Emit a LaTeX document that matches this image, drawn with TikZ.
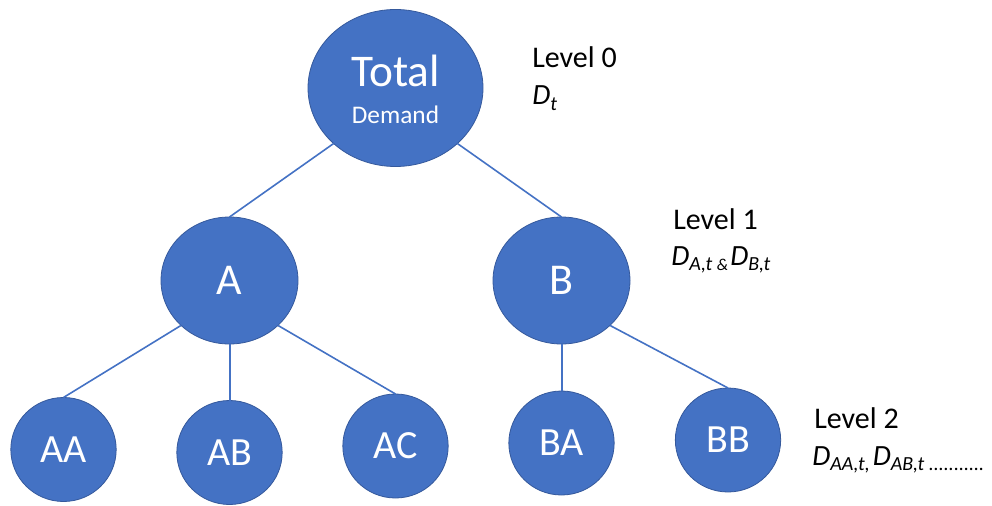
\documentclass[tikz,border=0pt]{standalone}
\usepackage{fontspec}
\setmainfont{Carlito}
\usetikzlibrary{shapes.geometric}
\definecolor{nodeblue}{HTML}{4472C4}
\definecolor{rimblue}{HTML}{35599C}
% lowered italic subscript used in the level formulas
\newcommand\lvsub[1]{\raisebox{-4pt}{\fontsize{15}{15}\selectfont\itshape #1}}
\newcommand\lvamp{\raisebox{-4pt}{\fontsize{12.5}{13}\selectfont\itshape\&}}
\newcommand\lvD{{\fontsize{22}{26}\selectfont\itshape D}}
\begin{document}
\begin{tikzpicture}[x=0.75pt,y=-0.75pt,
  bubble/.style={ellipse, fill=nodeblue, draw=rimblue, line width=0.6pt,
    inner sep=0pt, outer sep=0pt, text=white},
  big/.style={bubble, minimum width=131.25pt, minimum height=117.75pt},
  mid/.style={bubble, minimum width=102.75pt, minimum height=95.25pt,
    font=\fontsize{33}{36}\selectfont},
  leaf/.style={bubble, minimum width=79pt, minimum height=78pt,
    font=\fontsize{30}{33}\selectfont},
  link/.style={draw=nodeblue, line width=1.2pt},
  vlink/.style={link, line width=1.5pt},
  lvl/.style={anchor=base west, inner sep=0pt, font=\fontsize{22.5}{27}\selectfont},
  formula/.style={anchor=base west, inner sep=0pt}]

\useasboundingbox (0,0) rectangle (992,506);

% tree nodes
\node[big] (tot) at (395.5,88) {};
\node[anchor=base, inner sep=0pt, text=white, font=\fontsize{34}{36}\selectfont]
  (tottitle) at (395.5,87) {Total};
\node[anchor=base, inner sep=0pt, text=white, font=\fontsize{19}{22}\selectfont]
  (totsub) at (395.5,124) {Demand};

\node[mid] (A) at (229.5,280.5) {A};
\node[mid] (B) at (561.5,280.5) {B};

\node[leaf] (AA) at (63.5,449.5) {AA};
\node[leaf] (AB) at (229.5,452.5) {AB};
\node[leaf] (AC) at (395.5,446) {AC};
\node[leaf] (BA) at (561.5,443) {BA};
\node[leaf] (BB) at (728,440) {BB};

% connectors
\begin{scope}[xshift=-2.25pt]
\draw[link] (tot.south west) -- (A.north);
\draw[link] (tot.south east) -- (B.north);
\draw[link] (A.south west) -- (AA.north);
\draw[vlink] (A.south) -- (AB.north);
\draw[link] (A.south east) -- (AC.north);
\draw[vlink] (B.south) -- (BA.north);
\draw[link] (B.south east) -- (BB.north);
\end{scope}

% level annotations
\node[lvl] (lv0) at (532,68) {Level 0};
\node[formula] (f0) at (532,105) {\lvD\lvsub{t}};

\node[lvl] (lv1) at (673,229) {Level 1};
\node[formula] (f1) at (671,265) {\lvD\lvsub{A,t }\lvamp\,\lvD\lvsub{B,t}};

\node[lvl] (lv2) at (814,428) {Level 2};
\node[formula] (f2) at (812,465) {\lvD\lvsub{AA,t,} \lvD\lvsub{AB,t ...........}};
\end{tikzpicture}
\end{document}
